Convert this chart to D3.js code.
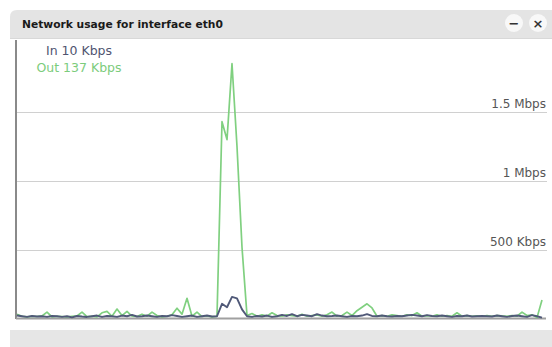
<!DOCTYPE html>
<html>
<head>
<meta charset="utf-8">
<script src="https://cdn.jsdelivr.net/npm/d3@7"></script>
<style>
  html, body { margin: 0; padding: 0; background: #fff; }
  svg { display: block; }
</style>
</head>
<body>
<svg id="chart" width="552" height="347"></svg>
<script>
// Samples of interface throughput, in Kbps, oldest first
const outKbps = [35, 20, 15, 20, 18, 22, 50, 15, 20, 18, 15, 20, 22, 50, 18, 20, 15, 45, 55, 20,
  72, 25, 55, 20, 18, 35, 20, 50, 25, 15, 20, 30, 78, 35, 150, 20, 50, 18, 22, 15,
  20, 1430, 1300, 1850, 1250, 520, 25, 40, 20, 30, 22, 45, 25, 20, 30, 25, 20, 35, 20, 25,
  30, 20, 30, 50, 20, 25, 50, 25, 60, 85, 110, 80, 20, 25, 20, 30, 25, 20, 30, 25,
  45, 20, 25, 20, 30, 20, 25, 20, 45, 20, 25, 20, 22, 20, 25, 20, 25, 22, 20, 25,
  20, 50, 25, 30, 10, 137];
const inKbps = [25, 20, 15, 22, 18, 20, 15, 22, 20, 15, 20, 12, 22, 18, 15, 20, 25, 15, 22, 20,
  15, 25, 20, 30, 18, 20, 25, 20, 15, 22, 20, 28, 22, 15, 20, 25, 15, 20, 25, 18,
  20, 110, 85, 160, 150, 70, 20, 15, 22, 18, 25, 15, 20, 30, 22, 35, 20, 30, 25, 20,
  35, 25, 20, 22, 25, 20, 15, 22, 20, 25, 35, 22, 20, 25, 20, 18, 22, 20, 25, 30,
  25, 20, 28, 22, 20, 25, 20, 15, 22, 20, 25, 18, 20, 22, 20, 18, 25, 20, 15, 22,
  25, 20, 15, 28, 20, 10];
const gridTicks = [500, 1000, 1500];
const titleText = "Network usage for interface eth0";

const fmtRate = v => v >= 1000 ? `${+(v / 1000).toFixed(1)} Mbps` : `${v} Kbps`;

const svg = d3.select("#chart");
const W = 552, H = 347;

// window chrome: header bar and footer bar
const header = d3.path();
header.moveTo(10, 38); header.lineTo(10, 17);
header.quadraticCurveTo(10, 10, 17, 10);
header.lineTo(W, 10); header.lineTo(W, 38); header.closePath();
svg.append("path").attr("d", header.toString()).attr("fill", "#e4e4e4");
svg.append("line").attr("x1", 10).attr("x2", W).attr("y1", 38.5).attr("y2", 38.5)
  .attr("stroke", "#d8d8d8");
svg.append("text").attr("x", 22).attr("y", 28)
  .attr("font-family", "DejaVu Sans").attr("font-weight", "bold").attr("font-size", 10.7)
  .attr("fill", "#1a1a1a").text(titleText);

[{ cx: 514, sym: "\u2212" }, { cx: 538, sym: "\u00d7" }].forEach(b => {
  svg.append("circle").attr("cx", b.cx).attr("cy", 23).attr("r", 9).attr("fill", "#f8f8f8");
  svg.append("text").attr("x", b.cx).attr("y", 27.5).attr("text-anchor", "middle")
    .attr("font-family", "DejaVu Sans").attr("font-weight", "bold").attr("font-size", 13)
    .attr("fill", "#333").text(b.sym);
});

svg.append("rect").attr("x", 10).attr("y", 330).attr("width", W - 10).attr("height", H - 330)
  .attr("fill", "#e6e6e6");

// plot scales
const x = d3.scaleLinear().domain([0, outKbps.length - 1]).range([17, 542]);
const y = d3.scaleLinear().domain([0, 2000]).range([319, 43]);

// horizontal grid with labels sitting on the lines at the right edge
const grid = svg.append("g");
grid.selectAll("line").data(gridTicks).join("line")
  .attr("x1", 16).attr("x2", 547)
  .attr("y1", d => Math.round(y(d)) + 0.5).attr("y2", d => Math.round(y(d)) + 0.5)
  .attr("stroke", "#d0d0d0");
grid.selectAll("text").data(gridTicks).join("text")
  .attr("x", 546).attr("y", d => y(d) - 4).attr("text-anchor", "end")
  .attr("font-family", "DejaVu Sans").attr("font-size", 12).attr("fill", "#555")
  .text(fmtRate);

// axes lines
svg.append("line").attr("x1", 16).attr("x2", 16).attr("y1", 40).attr("y2", 319)
  .attr("stroke", "#8a8a8a").attr("stroke-width", 2);
svg.append("line").attr("x1", 16).attr("x2", 546).attr("y1", 318.5).attr("y2", 318.5)
  .attr("stroke", "#a0a0a0").attr("stroke-width", 2);

// series lines
const line = d3.line().x((d, i) => x(i)).y(d => y(d));
svg.append("path").datum(outKbps).attr("d", line)
  .attr("fill", "none").attr("stroke", "#80d080").attr("stroke-width", 1.7)
  .attr("stroke-linejoin", "round");
svg.append("path").datum(inKbps).attr("d", line)
  .attr("fill", "none").attr("stroke", "#505978").attr("stroke-width", 1.9)
  .attr("stroke-linejoin", "round");

// current values legend
const legend = [
  { label: "In", value: inKbps[inKbps.length - 1], color: "#4f5470", y: 55 },
  { label: "Out", value: outKbps[outKbps.length - 1], color: "#7ccc7c", y: 72 }
];
svg.append("g").selectAll("text").data(legend).join("text")
  .attr("x", 79).attr("y", d => d.y).attr("text-anchor", "middle")
  .attr("font-family", "DejaVu Sans").attr("font-size", 12.5).attr("fill", d => d.color)
  .text(d => `${d.label} ${fmtRate(d.value)}`);
</script>
</body>
</html>
